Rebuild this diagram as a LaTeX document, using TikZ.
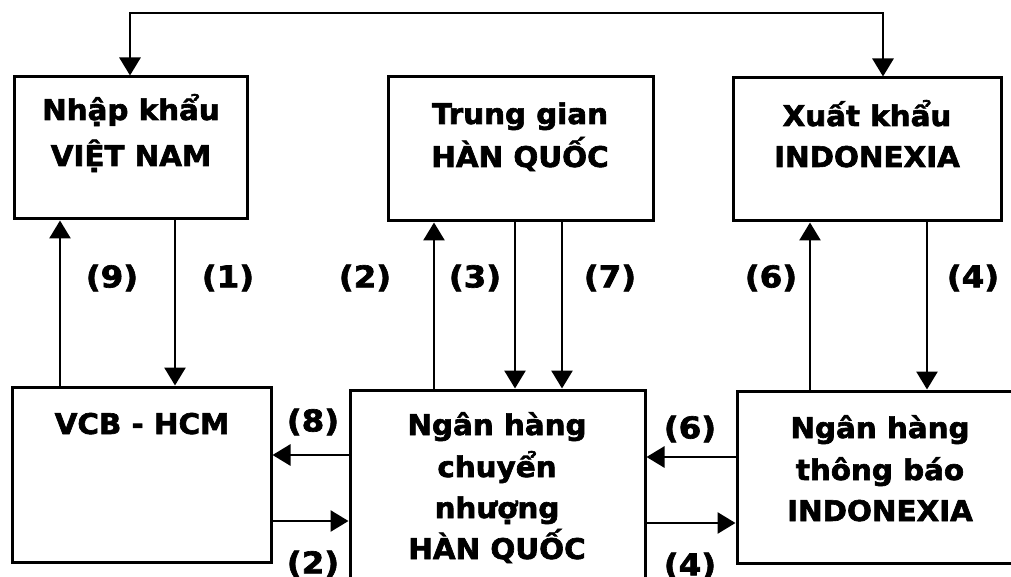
\documentclass[tikz,border=0pt]{standalone}
\usepackage{fontspec}
\setmainfont{DejaVu Sans}[BoldFeatures={FakeBold=2.2}]
\usetikzlibrary{arrows.meta}
\newcommand\hsx[1]{\scalebox{1.03}[1]{#1}}
\newcommand\hsl[1]{\scalebox{1.08}[1]{#1}}
\begin{document}
\begin{tikzpicture}[x=1pt,y=-1pt,
  box/.style={draw, line width=3pt, inner sep=0pt},
  txt/.style={anchor=base, inner sep=0pt, font=\fontsize{28.5}{34}\selectfont\bfseries},
  lbl/.style={inner sep=0pt, font=\fontsize{30}{36}\selectfont\bfseries},
  tip/.tip={Triangle[length=18pt,width=21pt]},
  arr/.style={line width=2.8pt, -tip},
  darr/.style={line width=2.8pt, tip-tip},
]
\useasboundingbox (0,0) rectangle (1011,577);

% boxes
\node[box, minimum width=233pt, minimum height=142pt] (b1) at (130.5,148) {};
\node[box, minimum width=265pt, minimum height=144pt] (b2) at (520.5,149) {};
\node[box, minimum width=268pt, minimum height=143pt] (b3) at (867,149.5) {};
\node[box, minimum width=259pt, minimum height=175pt] (b4) at (141.5,474.5) {};
\node[box, minimum width=295pt, minimum height=230pt] (b5) at (497.5,505) {};
\node[box, minimum width=286pt, minimum height=172pt] (b6) at (880,477) {};

% texts
\node[txt] (t1a) at (131,120) {\hsx{Nhập khẩu}};
\node[txt] (t1b) at (131,166) {\hsx{VIỆT NAM}};
\node[txt] (t2a) at (520,124) {\hsx{Trung gian}};
\node[txt] (t2b) at (520,167) {\hsx{HÀN QUỐC}};
\node[txt] (t3a) at (867,126) {\hsx{Xuất khẩu}};
\node[txt] (t3b) at (867,167) {\hsx{INDONEXIA}};
\node[txt] (t4a) at (142,434) {\hsx{VCB - HCM}};
\node[txt] (t5a) at (497,435) {\hsx{Ngân hàng}};
\node[txt] (t5b) at (497,477) {\hsx{chuyển}};
\node[txt] (t5c) at (497,518) {\hsx{nhượng}};
\node[txt] (t5d) at (497,559) {\hsx{HÀN QUỐC}};
\node[txt] (t6a) at (880,438) {\hsx{Ngân hàng}};
\node[txt] (t6b) at (880,480) {\hsx{thông báo}};
\node[txt] (t6c) at (880,521) {\hsx{INDONEXIA}};

% helper coordinates
\coordinate (tl) at (130,13);
\coordinate (tr) at (883,13);
\coordinate (x9) at (60,0);
\coordinate (x1) at (175,0);
\coordinate (x2) at (434,0);
\coordinate (x3) at (515,0);
\coordinate (x7) at (562,0);
\coordinate (x6) at (810,0);
\coordinate (x4) at (927,0);
\coordinate (y8) at (0,455);
\coordinate (y2) at (0,521);
\coordinate (y6) at (0,457);
\coordinate (y4) at (0,523);

% top loop
\draw[darr] (b1.north -| tl) |- (tr) -- (b3.north -| tr);

% vertical arrows
\draw[arr] (b4.north -| x9) -- (b1.south -| x9);
\draw[arr] (b1.south -| x1) -- (b4.north -| x1);
\draw[arr] (b5.north -| x2) -- (b2.south -| x2);
\draw[arr] (b2.south -| x3) -- (b5.north -| x3);
\draw[arr] (b2.south -| x7) -- (b5.north -| x7);
\draw[arr] (b6.north -| x6) -- (b3.south -| x6);
\draw[arr] (b3.south -| x4) -- (b6.north -| x4);

% horizontal arrows
\draw[arr] (b5.west |- y8) -- (b4.east |- y8);
\draw[arr] (b4.east |- y2) -- (b5.west |- y2);
\draw[arr] (b6.west |- y6) -- (b5.east |- y6);
\draw[arr] (b5.east |- y4) -- (b6.west |- y4);

% labels
\node[lbl] (l9) at (112,278) {\hsl{(9)}};
\node[lbl] (l1) at (228,278) {\hsl{(1)}};
\node[lbl] (l2) at (365,278) {\hsl{(2)}};
\node[lbl] (l3) at (475,278) {\hsl{(3)}};
\node[lbl] (l7) at (610,278) {\hsl{(7)}};
\node[lbl] (l6) at (771,278) {\hsl{(6)}};
\node[lbl] (l4) at (973,278) {\hsl{(4)}};
\node[lbl] (l8) at (313,422) {\hsl{(8)}};
\node[lbl] (l2b) at (313,564) {\hsl{(2)}};
\node[lbl] (l6b) at (690,429) {\hsl{(6)}};
\node[lbl] (l4b) at (690,566) {\hsl{(4)}};
\end{tikzpicture}
\end{document}
